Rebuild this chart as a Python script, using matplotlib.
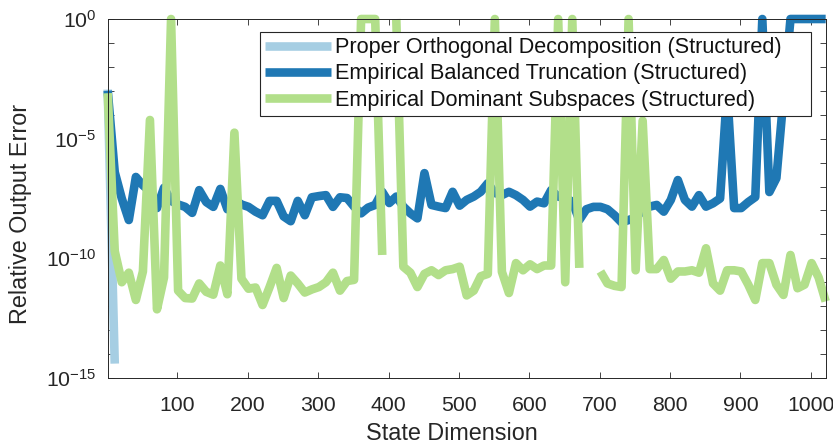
import numpy as np
import matplotlib
matplotlib.use("Agg")
import matplotlib.pyplot as plt
from matplotlib.ticker import FixedLocator, FuncFormatter

plt.rcParams["font.family"] = ["Liberation Sans", "DejaVu Sans"]
plt.rcParams["mathtext.fontset"] = "custom"
plt.rcParams["mathtext.rm"] = "Liberation Sans"
plt.rcParams["mathtext.it"] = "Liberation Sans:italic"

# state dimensions 1, 11, ..., 1021
dims = np.arange(1, 1022, 10)

# log10 of relative output error
pod_log = [-2.95, -14.4] + [np.nan] * 101

ebt_log = [
    -3.0, -6.4, -7.5, -8.4, -6.6, -6.95, -7.2, -7.9, -7.05, -7.6,
    -7.75, -7.85, -8.1, -7.15, -7.65, -7.85, -7.1, -7.95, -7.55, -7.75,
    -7.85, -8.05, -8.2, -7.6, -7.6, -8.25, -8.45, -7.6, -8.2, -7.45,
    -7.4, -7.36, -7.85, -7.45, -7.48, -7.84, -8.12, -7.88, -7.77, -7.22,
    -7.69, -7.42, -7.84, -8.12, -8.33, -6.44, -7.77, -7.84, -7.9, -7.22,
    -7.8, -7.56, -7.42, -7.22, -6.86, -7.27, -7.36, -7.22, -7.36, -7.56,
    -7.84, -7.63, -7.7, -7.15, -7.42, -7.48, -7.63, -8.4, -7.95, -7.85,
    -7.85, -7.95, -8.2, -8.5, -8.4, -8.3, -8.0, -7.84, -7.77, -8.05,
    -7.56, -6.73, -7.56, -7.84, -7.36, -7.84, -7.7, -7.5, -3.0, -7.9,
    -7.9, -7.65, -7.44, 0.0, -7.23, -6.65, -3.3, 0.0, 0.0, 0.0,
    0.0, 0.0, 0.0,
]

eds_log = [
    -3.1, -9.7, -11.0, -10.6, -11.74, -10.55, -4.22, -12.13, -10.8, 0.0,
    -11.35, -11.66, -11.68, -11.05, -11.4, -11.52, -10.3, -11.5, -4.75, -10.85,
    -11.27, -11.22, -11.95, -11.2, -10.4, -11.66, -10.72, -11.05, -11.43, -11.3,
    -11.2, -11.0, -10.6, -11.35, -10.95, -10.9, 0.0, 0.0, 0.0, -9.86,
    np.nan, 0.0, -10.35, -10.6, -11.2, -10.65, -10.5, -10.7, -10.5, -10.45,
    -10.35, -11.55, -11.35, -10.75, -10.65, 0.0, -10.56, -11.45, -10.2, -10.5,
    -10.25, -10.45, -10.3, -10.3, 0.0, -11.0, 0.0, -10.4, np.nan, np.nan,
    -10.55, -11.05, -11.15, -11.2, 0.0, -10.5, -4.25, -10.45, -10.45, -10.07,
    -10.85, -10.55, -10.55, -10.5, -10.6, -9.58, -11.05, -11.35, -10.5, -10.5,
    -10.55, -11.1, -11.74, -10.2, -10.2, -11.1, -11.53, -9.86, -11.25, -11.1,
    -10.2, -10.8, -11.8,
]

labels = [
    "Proper Orthogonal Decomposition (Structured)",
    "Empirical Balanced Truncation (Structured)",
    "Empirical Dominant Subspaces (Structured)",
]
colors = ["#a6cee3", "#1f78b4", "#b2df8a"]

fig = plt.figure(figsize=(8.33, 4.45), dpi=100)
ax = fig.add_axes([0.1293, 0.1506, 0.8619, 0.8067])

for vals, lab, col in zip([pod_log, ebt_log, eds_log], labels, colors):
    # trailing spaces give the wide right margin of the legend box
    ax.plot(dims, 10.0 ** np.array(vals), color=col, lw=6.2, label=lab + "    ",
            solid_capstyle="butt", solid_joinstyle="round", clip_on=False)

ax.set_yscale("log")
ax.set_ylim(1e-15, 1e0)
ax.set_xlim(1, 1021)

ax.yaxis.set_major_locator(FixedLocator([10.0 ** e for e in range(-15, 1)]))
ax.yaxis.set_minor_locator(FixedLocator([]))
ax.yaxis.set_major_formatter(FuncFormatter(
    lambda v, p: r"$\mathdefault{10^{%d}}$" % round(np.log10(v))
    if round(np.log10(v)) % 5 == 0 else ""))
ax.set_xticks(range(100, 1001, 100))

dark = "#262626"
for s in ax.spines.values():
    s.set_color(dark)
    s.set_linewidth(0.7)
ax.tick_params(which="both", direction="in", length=4, width=0.6,
               top=True, right=True, colors=dark, labelsize=15.3)
ax.tick_params(axis="y", pad=8)
ax.tick_params(axis="x", pad=13)

ax.set_xlabel("State Dimension", fontsize=16.8, color=dark)
ax.set_ylabel("Relative Output Error", fontsize=16.8, color=dark)
ax.xaxis.set_label_coords(0.48, -0.124)
ax.yaxis.set_label_coords(-0.105, 0.458)

leg = ax.legend(loc="upper right", bbox_to_anchor=(0.9795, 0.9638),
                borderaxespad=0, fontsize=15.6, handlelength=3.05,
                handletextpad=0.18, labelspacing=0.24, borderpad=0.24,
                fancybox=False, framealpha=1)
leg.get_frame().set_edgecolor(dark)
leg.get_frame().set_linewidth(0.8)
for t in leg.get_texts():
    t.set_color("#111111")

fig.savefig("out.png", dpi=100)
